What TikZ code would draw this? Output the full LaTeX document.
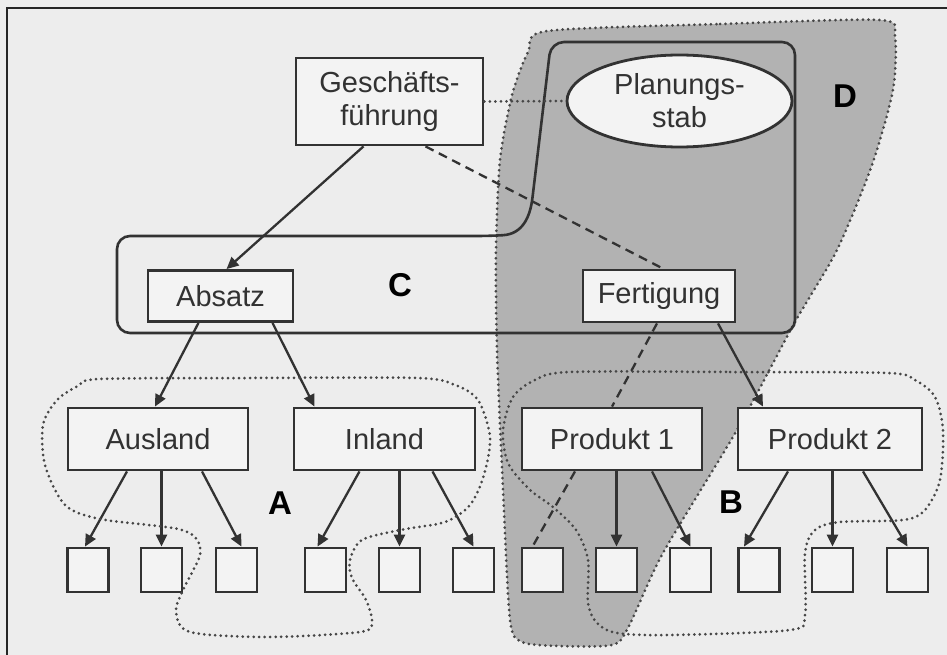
\documentclass[tikz,border=0pt]{standalone}
\usepackage{fontspec}
\setmainfont{Liberation Sans}
\usetikzlibrary{arrows.meta,shapes.geometric}
\definecolor{paper}{RGB}{237,237,237}
\definecolor{boxfill}{RGB}{243,243,243}
\definecolor{ink}{RGB}{50,50,50}
\definecolor{dotink}{RGB}{70,70,70}
\definecolor{shade}{RGB}{178,178,178}
\tikzset{
  box/.style={draw=ink, line width=2.8pt, fill=boxfill, inner sep=0pt, align=center,
    text=ink, font=\fontsize{29}{33}\selectfont},
  leaf/.style={draw=ink, line width=2.8pt, fill=boxfill, inner sep=0pt,
    minimum width=41pt, minimum height=44pt},
  arr/.style={draw=ink, line width=2.3pt, -{Triangle[length=12pt,width=11pt]}},
  dashline/.style={draw=ink, line width=2.3pt, dash pattern=on 9pt off 6pt},
  dotline/.style={draw=dotink, line width=3pt, line cap=round, dash pattern=on 0pt off 5.5pt},
  tag/.style={font=\fontsize{33}{36}\selectfont\bfseries, text=black},
}
\begin{document}
\begin{tikzpicture}[x=1pt, y=-1pt]
  % page
  \fill[paper] (0,0) rectangle (947,655);
  \useasboundingbox (0,0) rectangle (947,655);
  \draw[line width=2.2pt, black!85] (7,656) -- (7,8) -- (948,8);

  % shaded area D
  \path[fill=shade, dotline] plot[smooth cycle, tension=0.45] coordinates {
    (547,31) (720,24) (880,20) (895,36) (893,90) (872,165) (837,250) (795,322)
    (737,430) (663,553) (628,628) (612,645) (560,646) (522,642) (510,620)
    (503,490) (497,350) (496,250) (500,160) (512,95) (528,52)};

  % outline C
  \draw[draw=ink, line width=2.6pt, rounded corners=13pt]
    (490,236) .. controls (522,234) and (530,218) .. (534,185)
    -- (551,42) -- (795,42) -- (795,333) -- (117,333) -- (117,236) -- cycle;

  % units
  \node[box, minimum width=187pt, minimum height=87pt] (gf) at (389.5,101.5) {Geschäfts-\\führung};
  \node[box, ellipse, minimum width=225pt, minimum height=92pt] (plan) at (679.5,101) {Planungs-\\stab};
  \node[box, minimum width=145pt, minimum height=51pt] (abs) at (220.5,296) {Absatz};
  \node[box, minimum width=152pt, minimum height=52pt] (fert) at (659,296) {Fertigung};
  \node[box, minimum width=180pt, minimum height=62pt] (aus) at (158,439) {Ausland};
  \node[box, minimum width=181pt, minimum height=62pt] (inl) at (384.5,439) {Inland};
  \node[box, minimum width=180pt, minimum height=62pt] (p1) at (612,439) {Produkt 1};
  \node[box, minimum width=184pt, minimum height=62pt] (p2) at (830,439) {Produkt 2};

  \node[leaf] (s1) at (88,570) {};
  \node[leaf] (s2) at (161.5,570) {};
  \node[leaf] (s3) at (236.5,570) {};
  \node[leaf] (s4) at (325.5,570) {};
  \node[leaf] (s5) at (399.5,570) {};
  \node[leaf] (s6) at (473.5,570) {};
  \node[leaf] (s7) at (542.5,570) {};
  \node[leaf] (s8) at (616.5,570) {};
  \node[leaf] (s9) at (690.5,570) {};
  \node[leaf] (s10) at (759,570) {};
  \node[leaf] (s11) at (832.5,570) {};
  \node[leaf] (s12) at (907.5,570) {};

  % connectors
  \draw[dotline] (gf.east) -- (plan.west);
  \draw[arr] ([xshift=-26pt]gf.south) -- ([xshift=6pt]abs.north);
  \draw[dashline] ([xshift=36pt]gf.south) -- ([xshift=4pt]fert.north);
  \draw[arr] ([xshift=-22pt]abs.south) -- ([xshift=-3pt]aus.north);
  \draw[arr] ([xshift=52pt]abs.south) -- ([xshift=-70pt]inl.north);
  \draw[dashline] ([xshift=-2pt]fert.south) -- (p1.north);
  \draw[arr] ([xshift=59pt]fert.south) -- ([xshift=-67pt]p2.north);

  \draw[arr] ([xshift=-31pt]aus.south) -- ([xshift=-3pt]s1.north);
  \draw[arr] (s2.north |- aus.south) -- (s2.north);
  \draw[arr] ([xshift=44pt]aus.south) -- ([xshift=5pt]s3.north);
  \draw[arr] ([xshift=-25pt]inl.south) -- ([xshift=-8pt]s4.north);
  \draw[arr] (s5.north |- inl.south) -- (s5.north);
  \draw[arr] ([xshift=48pt]inl.south) -- (s6.north);
  \draw[dashline] ([xshift=-37pt]p1.south) -- ([xshift=-10pt]s7.north);
  \draw[arr] (s8.north |- p1.south) -- (s8.north);
  \draw[arr] ([xshift=40pt]p1.south) -- (s9.north);
  \draw[arr] ([xshift=-42pt]p2.south) -- ([xshift=-15pt]s10.north);
  \draw[arr] (s11.north |- p2.south) -- (s11.north);
  \draw[arr] ([xshift=33pt]p2.south) -- (s12.north);

  % dotted areas A and B
  \draw[dotline] plot[smooth cycle, tension=0.5] coordinates {
    (100,379) (250,378) (417,378) (455,385) (478,400) (490,437) (484,475)
    (470,505) (445,522) (400,530) (362,540) (350,560) (352,578) (366,600)
    (372,622) (360,632) (267,637) (190,632) (176,612) (183,590) (200,555)
    (195,537) (173,528) (100,519) (65,505) (45,465) (43,425) (57,400) (78,386)};
  \draw[dotline] plot[smooth cycle, tension=0.5] coordinates {
    (570,372) (730,372) (887,373) (915,380) (935,397) (943,430) (940,480)
    (925,510) (903,520) (840,522) (815,530) (805,553) (805,615) (790,630)
    (670,635) (617,633) (597,623) (588,603) (588,560) (576,530) (553,507)
    (530,490) (508,463) (503,430) (513,397) (535,380)};

  % area letters
  \node[tag] (la) at (280,503) {A};
  \node[tag] (lb) at (731,502) {B};
  \node[tag] (lc) at (400,285) {C};
  \node[tag] (ld) at (845,96) {D};
\end{tikzpicture}
\end{document}
